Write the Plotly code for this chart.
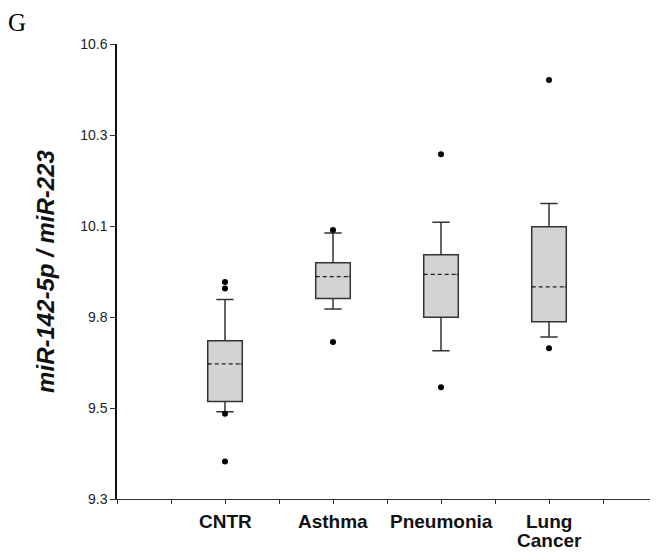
import plotly.graph_objects as go

groups = ["CNTR", "Asthma", "Pneumonia", "Lung Cancer"]
group_pos = [2, 4, 6, 8]
lower_whisker = [9.540, 9.822, 9.707, 9.745]
q1 = [9.568, 9.851, 9.799, 9.787]
median = [9.671, 9.911, 9.917, 9.883]
q3 = [9.735, 9.949, 9.971, 10.048]
upper_whisker = [9.848, 10.031, 10.060, 10.112]
outliers = [
    [9.896, 9.878, 9.534, 9.403],
    [10.039, 9.731],
    [10.247, 9.607],
    [10.451, 9.714],
]
y_tickvals = [9.3, 9.55, 9.8, 10.05, 10.3, 10.55]
y_ticktext = ["9.3", "9.5", "9.8", "10.1", "10.3", "10.6"]

BOX_W = 0.64
LINE = "#333333"
FILL = "#d3d3d3"
PLOT_H = 455  # plot-area height in px

fig = go.Figure()
for i, g in enumerate(groups):
    fig.add_trace(go.Box(
        x=[group_pos[i]], q1=[q1[i]], median=[median[i]], q3=[q3[i]],
        lowerfence=[lower_whisker[i]], upperfence=[upper_whisker[i]],
        width=BOX_W, whiskerwidth=0.5, fillcolor=FILL,
        line=dict(color=LINE, width=1.5), boxpoints=False,
        showlegend=False, hoverinfo="skip",
    ))
    xs = [group_pos[i] - BOX_W / 2 + 0.03, group_pos[i] + BOX_W / 2 - 0.03]
    fig.add_trace(go.Scatter(x=xs, y=[median[i]] * 2, mode="lines",
                             line=dict(color=FILL, width=3), showlegend=False, hoverinfo="skip"))
    fig.add_trace(go.Scatter(x=[group_pos[i] - BOX_W / 2, group_pos[i] + BOX_W / 2],
                             y=[median[i]] * 2, mode="lines",
                             line=dict(color="#222222", width=1.2, dash="4px,3px"),
                             showlegend=False, hoverinfo="skip"))
    fig.add_trace(go.Scatter(x=[group_pos[i]] * len(outliers[i]), y=outliers[i], mode="markers",
                             marker=dict(color="black", size=6), showlegend=False, hoverinfo="skip"))

# category labels, one line per word, 20px apart
annotations = []
for i, g in enumerate(groups):
    for k, word in enumerate(g.split(" ")):
        annotations.append(dict(
            text=f"<b>{word}</b>", x=group_pos[i], xref="x",
            y=-(22 + 19 * k) / PLOT_H, yref="paper", yanchor="middle", xanchor="center",
            showarrow=False, font=dict(size=19, color="#111111")))
annotations.append(dict(text="G", x=-100 / 540, y=1 + 36 / PLOT_H, xref="paper", yref="paper",
                        showarrow=False, xanchor="center", yanchor="top", borderpad=0,
                        font=dict(family="Liberation Serif, Times New Roman, serif", size=25, color="black")))

# The page body has an 8px margin, so the figure is sized/positioned to compensate.
fig.update_layout(
    width=650, height=544,
    margin=dict(l=109, r=1, t=36, b=53),
    plot_bgcolor="white", paper_bgcolor="white",
    font=dict(family="Liberation Sans, Arial, sans-serif", color="#111111"),
    xaxis=dict(
        range=[0, 10], tickmode="array",
        tickvals=list(range(0, 10)), ticktext=[""] * 10,
        ticks="outside", ticklen=4, tickcolor="#333333", tickwidth=1,
        showline=True, linecolor="#333333", linewidth=1.2,
        showgrid=False, zeroline=False, automargin=False,
    ),
    yaxis=dict(
        range=[9.3, 10.55], tickmode="array", tickvals=y_tickvals, ticktext=y_ticktext,
        ticks="outside", ticklen=5, tickcolor="#333333", tickwidth=1,
        showline=True, linecolor="#111111", linewidth=1.5,
        showgrid=False, zeroline=False, automargin=False,
        tickfont=dict(size=14, color="#222222"),
        title=dict(text="<b><i>miR-142-5p / miR-223</i></b>", font=dict(size=24, color="#111111"),
                   standoff=19),
    ),
    annotations=annotations,
)
fig.write_html("out.html")
